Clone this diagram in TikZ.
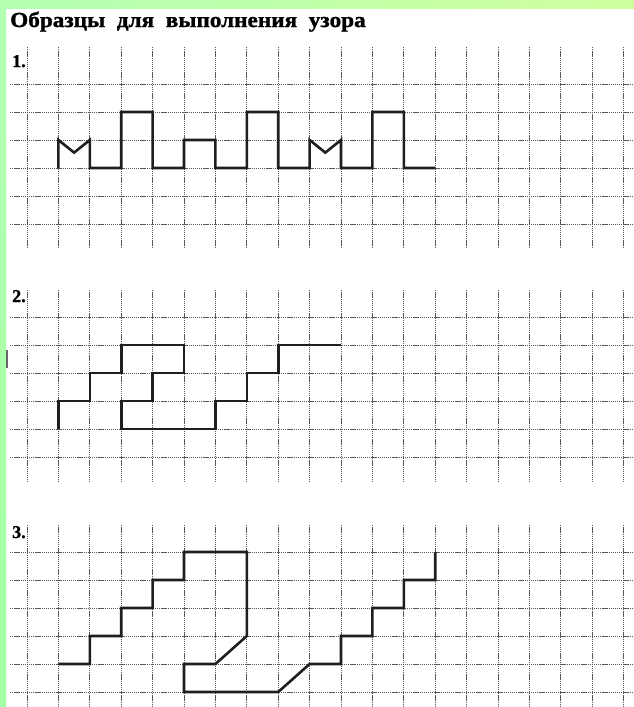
\documentclass[tikz,border=0pt]{standalone}
\usepackage{fontspec}
\setmainfont{Liberation Serif}
\newfontfamily\heavyserif[FakeBold=1.2]{Liberation Serif Bold}
\tikzset{
  gridline/.style={draw=black!65, line width=0.65pt, dash pattern=on 1.3pt off 0.8pt},
  patt/.style={draw=black!88, line width=2.6pt, line join=miter, line cap=butt},
  lab/.style={anchor=base west, inner sep=0pt, font=\heavyserif\fontsize{18}{18}\selectfont},
}
\begin{document}
\begin{tikzpicture}[x=1pt,y=-1pt]
\useasboundingbox (0,0) rectangle (634,707);
\fill[white] (0,0) rectangle (634,707);
% green frame
\shade[left color=green!30!white, right color=yellow!50!green!38!white] (0,0) rectangle (634,8);
\shade[top color=green!30!white, bottom color=green!36!white] (0,0) rectangle (6,707);
\draw[black!60, line width=1.2pt] (7,350) -- (7,368);
% title
\node[anchor=base west, inner sep=0pt] (title) at (10,27)
  {\scalebox{1.08}[1]{\heavyserif\fontsize{21.5}{21.5}\selectfont Образцы\ \ для\ \ выполнения\ \ узора}};
% labels
\node[lab] (l1) at (12,67) {1.};
\node[lab] (l2) at (12,302) {2.};
\node[lab] (l3) at (12,538) {3.};
% ---------- section 1 ----------
\begin{scope}[shift={(27pt,-84pt)}, x=31.4pt, y=-28pt]
  \foreach \k in {0,...,19} \draw[gridline] (\k,-1.32) -- (\k,5.82);
  \foreach \r in {0,...,5} \draw[gridline] (-0.54,\r) -- (19.33,\r);
  \draw[patt] (1,3)--(1,2)--(1.5,2.45)--(2,2)--(2,3)--(3,3)--(3,1)--(4,1)--(4,3)--(5,3)--(5,2)--(6,2)--(6,3)--(7,3)--(7,1)--(8,1)--(8,3)--(9,3)--(9,2)--(9.5,2.45)--(10,2)--(10,3)--(11,3)--(11,1)--(12,1)--(12,3)--(13,3);
\end{scope}
% ---------- section 2 ----------
\begin{scope}[shift={(27pt,-317pt)}, x=31.4pt, y=-28pt]
  \foreach \k in {0,...,19} \draw[gridline] (\k,-0.96) -- (\k,5.89);
  \foreach \r in {0,...,5} \draw[gridline] (-0.54,\r) -- (19.33,\r);
  \draw[patt] (1,4)--(1,3)--(2,3)--(2,2)--(3,2)--(3,1)--(5,1)--(5,2)--(4,2)--(4,3)--(3,3)--(3,4)--(6,4)--(6,3)--(7,3)--(7,2)--(8,2)--(8,1)--(10,1);
\end{scope}
% ---------- section 3 ----------
\begin{scope}[shift={(27pt,-552pt)}, x=31.4pt, y=-28pt]
  \foreach \k in {0,...,19} \draw[gridline] (\k,-0.96) -- (\k,5.6);
  \foreach \r in {0,...,5} \draw[gridline] (-0.54,\r) -- (19.33,\r);
  \draw[patt] (1,4)--(2,4)--(2,3)--(3,3)--(3,2)--(4,2)--(4,1)--(5,1)--(5,0)--(7,0)--(7,3)--(6,4)--(5,4)--(5,5)--(8,5)--(9,4)--(10,4)--(10,3)--(11,3)--(11,2)--(12,2)--(12,1)--(13,1)--(13,0);
\end{scope}
\end{tikzpicture}
\end{document}
